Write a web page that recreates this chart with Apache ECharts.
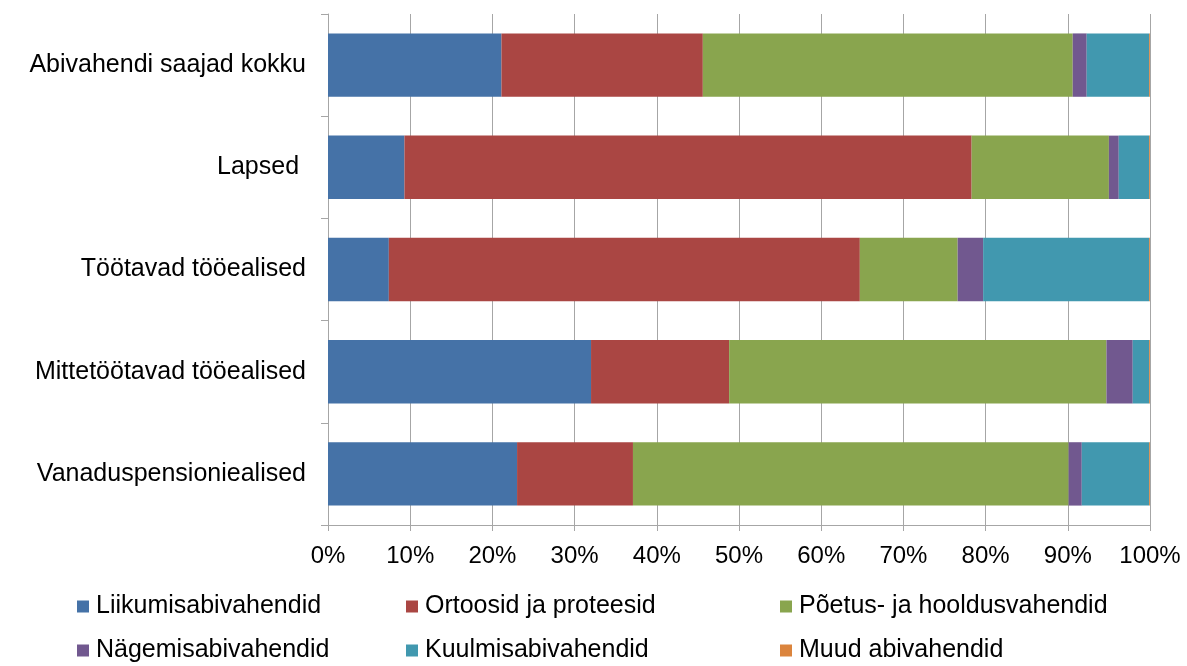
<!DOCTYPE html>
<html>
<head>
<meta charset="utf-8">
<script src="https://cdn.jsdelivr.net/npm/echarts@6/dist/echarts.min.js"></script>
<style>
html, body { margin: 0; padding: 0; background: #fff; }
#chart { width: 1187px; height: 666px; }
</style>
</head>
<body>
<div id="chart"></div>
<script>
const categories = ["Abivahendi saajad kokku", "Lapsed ", "Töötavad tööealised", "Mittetöötavad tööealised", "Vanaduspensioniealised"]
const seriesNames = ["Liikumisabivahendid", "Ortoosid ja proteesid", "Põetus- ja hooldusvahendid", "Nägemisabivahendid", "Kuulmisabivahendid", "Muud abivahendid"]
const liikumis = [21.1, 9.3, 7.4, 32.0, 23.0]
const ortoosid = [24.5, 69.0, 57.3, 16.8, 14.1]
const poetus = [45.0, 16.7, 11.9, 45.9, 53.0]
const nagemis = [1.7, 1.2, 3.1, 3.2, 1.6]
const kuulmis = [7.6, 3.7, 20.2, 2.0, 8.2]
const muud = [0.1, 0.1, 0.1, 0.1, 0.1]
const colors = ["#4572A7", "#AA4643", "#89A54E", "#71588F", "#4198AF", "#DB843D"]

const values = [liikumis, ortoosid, poetus, nagemis, kuulmis, muud]
const font = "Liberation Sans, Arial, sans-serif"

// legend grid: 3 columns, 2 rows
const legendLeft = [77, 406, 780]
const legendTop = [594, 638]

const myCharts = echarts.init(document.getElementById("chart"))

const legends = seriesNames.map((name, i) => ({
    left: legendLeft[i % 3],
    top: legendTop[Math.floor(i / 3)],
    padding: 0,
    data: [name],
    itemWidth: 12,
    itemHeight: 12,
    icon: "rect",
    selectedMode: false,
    textStyle: { fontFamily: font, fontSize: 25, color: "#000", padding: [0, 0, 0, 2] }
}))

myCharts.setOption({
    animation: false,
    color: colors,
    grid: {
        left: 328,
        right: 37,
        top: 14,
        bottom: 141
    },
    legend: legends,
    xAxis: {
        type: "value",
        min: 0,
        max: 100,
        interval: 10,
        axisLabel: {
            formatter: "{value}%",
            fontFamily: font,
            fontSize: 24,
            color: "#000",
            margin: 19
        },
        axisLine: { show: true, lineStyle: { color: "#a6a6a6" } },
        axisTick: { show: true, length: 6, lineStyle: { color: "#a6a6a6" } },
        splitLine: { show: true, lineStyle: { color: "#a6a6a6" } }
    },
    yAxis: {
        type: "category",
        inverse: true,
        data: categories,
        axisLabel: {
            fontFamily: font,
            fontSize: 25,
            color: "#000",
            margin: 22
        },
        axisLine: { show: true, lineStyle: { color: "#a6a6a6" } },
        axisTick: { show: true, length: 7, lineStyle: { color: "#a6a6a6" } }
    },
    series: seriesNames.map((name, i) => ({
        name: name,
        type: "bar",
        stack: "total",
        barWidth: "62%",
        data: values[i]
    }))
})
</script>
</body>
</html>
